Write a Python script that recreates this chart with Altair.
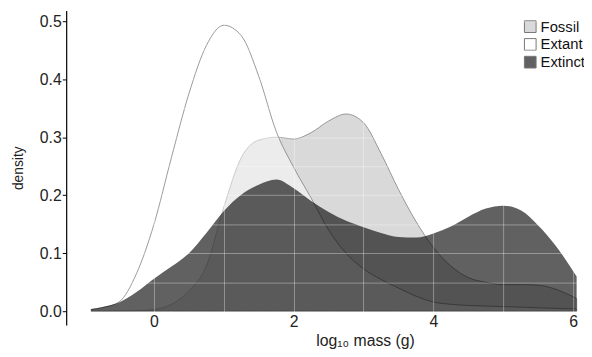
import altair as alt
import pandas as pd

x_vals = [-0.9, -0.75, -0.5, -0.25, 0.0, 0.25, 0.5, 0.75, 1.0, 1.25, 1.5, 1.75, 2.0, 2.25,
          2.5, 2.75, 3.0, 3.25, 3.5, 3.75, 4.0, 4.25, 4.5, 4.75, 5.0, 5.25, 5.5, 5.75, 6.05]
fossil = [0.0, 0.0, 0.0, 0.001, 0.003, 0.012, 0.035, 0.078, 0.18, 0.265, 0.295, 0.300, 0.297, 0.308,
          0.328, 0.340, 0.325, 0.272, 0.210, 0.155, 0.110, 0.078, 0.058, 0.050, 0.046, 0.046, 0.045, 0.038, 0.022]
extant = [0.003, 0.006, 0.016, 0.065, 0.15, 0.265, 0.375, 0.458, 0.493, 0.475, 0.405, 0.31, 0.248, 0.195,
          0.14, 0.10, 0.073, 0.055, 0.040, 0.026, 0.016, 0.012, 0.010, 0.009, 0.008, 0.007, 0.006, 0.005, 0.004]
extinct = [0.004, 0.007, 0.015, 0.033, 0.056, 0.077, 0.10, 0.135, 0.173, 0.201, 0.218, 0.227, 0.212, 0.19,
           0.171, 0.156, 0.145, 0.135, 0.128, 0.127, 0.134, 0.146, 0.163, 0.177, 0.182, 0.174, 0.148, 0.113, 0.06]

series_names = ["Fossil", "Extant", "Extinct"]
series_colors = ["#d9d9d9", "rgba(255,255,255,0.5)", "rgba(0,0,0,0.62)"]
x_ticks = [0, 1, 2, 3, 4, 5, 6]
y_ticks = [0.0, 0.05, 0.1, 0.15, 0.2, 0.25, 0.3, 0.35, 0.4, 0.45, 0.5]

rows = []
for name, vals in zip(series_names, [fossil, extant, extinct]):
    for xv, yv in zip(x_vals, vals):
        rows.append({"x": xv, "y": yv, "series": name})
df = pd.DataFrame(rows)

xscale = alt.Scale(domain=[-1.2565, 6.099], nice=False, zero=False)
yscale = alt.Scale(domain=[-0.0237, 0.5186], nice=False, zero=False)

xaxis = alt.Axis(
    values=x_ticks, title="log₁₀ mass (g)",
    labelExpr="round(datum.value) % 2 == 0 ? format(datum.value, 'd') : ''",
    ticks=False, tickSize=0, domain=False, labelPadding=-11,
    labelFontSize=16, labelColor="#222", labelFont="Liberation Sans",
    titleFontSize=16, titleColor="#222", titleFont="Liberation Sans", titleFontWeight="normal",
    titleX=303, titleY=21, titleBaseline="alphabetic", titleAlign="center",
    grid=True, gridColor="white", gridOpacity=0.35, gridWidth=1, zindex=1,
)
yaxis = alt.Axis(
    values=y_ticks, title="density",
    labelExpr="round(datum.value*20) % 2 == 0 ? format(datum.value, '.1f') : ''",
    tickOpacity={"condition": {"test": "round(datum.value*20) % 2 == 1", "value": 0}, "value": 1},
    tickSize=4, tickColor="black", domain=True, domainColor="black", domainWidth=1.2,
    labelPadding=1, labelFontSize=16, labelColor="#222", labelFont="Liberation Sans",
    titleFontSize=14, titleColor="#222", titleFont="Liberation Sans", titleFontWeight="normal",
    titlePadding=14,
    grid=True, gridColor="white", gridOpacity=0.35, gridWidth=1, zindex=1,
)

color = alt.Color(
    "series:N",
    scale=alt.Scale(domain=series_names, range=series_colors),
    legend=alt.Legend(
        title=None, orient="none", legendX=463, legendY=9,
        symbolType="square", symbolSize=140, symbolStrokeColor="#777", symbolStrokeWidth=1,
        labelFontSize=15, labelFont="Liberation Sans", labelColor="#111", labelOffset=3,
        rowPadding=1, symbolOpacity=1,
    ),
)

base = alt.Chart(df)

def layer(name, stroke):
    kw = {"interpolate": "monotone"}
    if stroke:
        kw.update(stroke="#808080", strokeWidth=0.8)
    else:
        kw.update(strokeWidth=0)
    return base.transform_filter(alt.datum.series == name).mark_area(**kw).encode(
        x=alt.X("x:Q", scale=xscale, axis=xaxis),
        y=alt.Y("y:Q", scale=yscale, axis=yaxis),
        y2=alt.datum(0),
        fill=color,
    )

chart = alt.layer(
    layer("Fossil", True), layer("Extant", True), layer("Extinct", False)
).properties(
    width=521, height=319,
    autosize=alt.AutoSizeParams(type="none"),
    padding={"left": 59, "top": 0, "right": 4, "bottom": 30},
).configure_view(stroke=None)

chart.save("out.html", embed_options={"renderer": "svg", "actions": False})
